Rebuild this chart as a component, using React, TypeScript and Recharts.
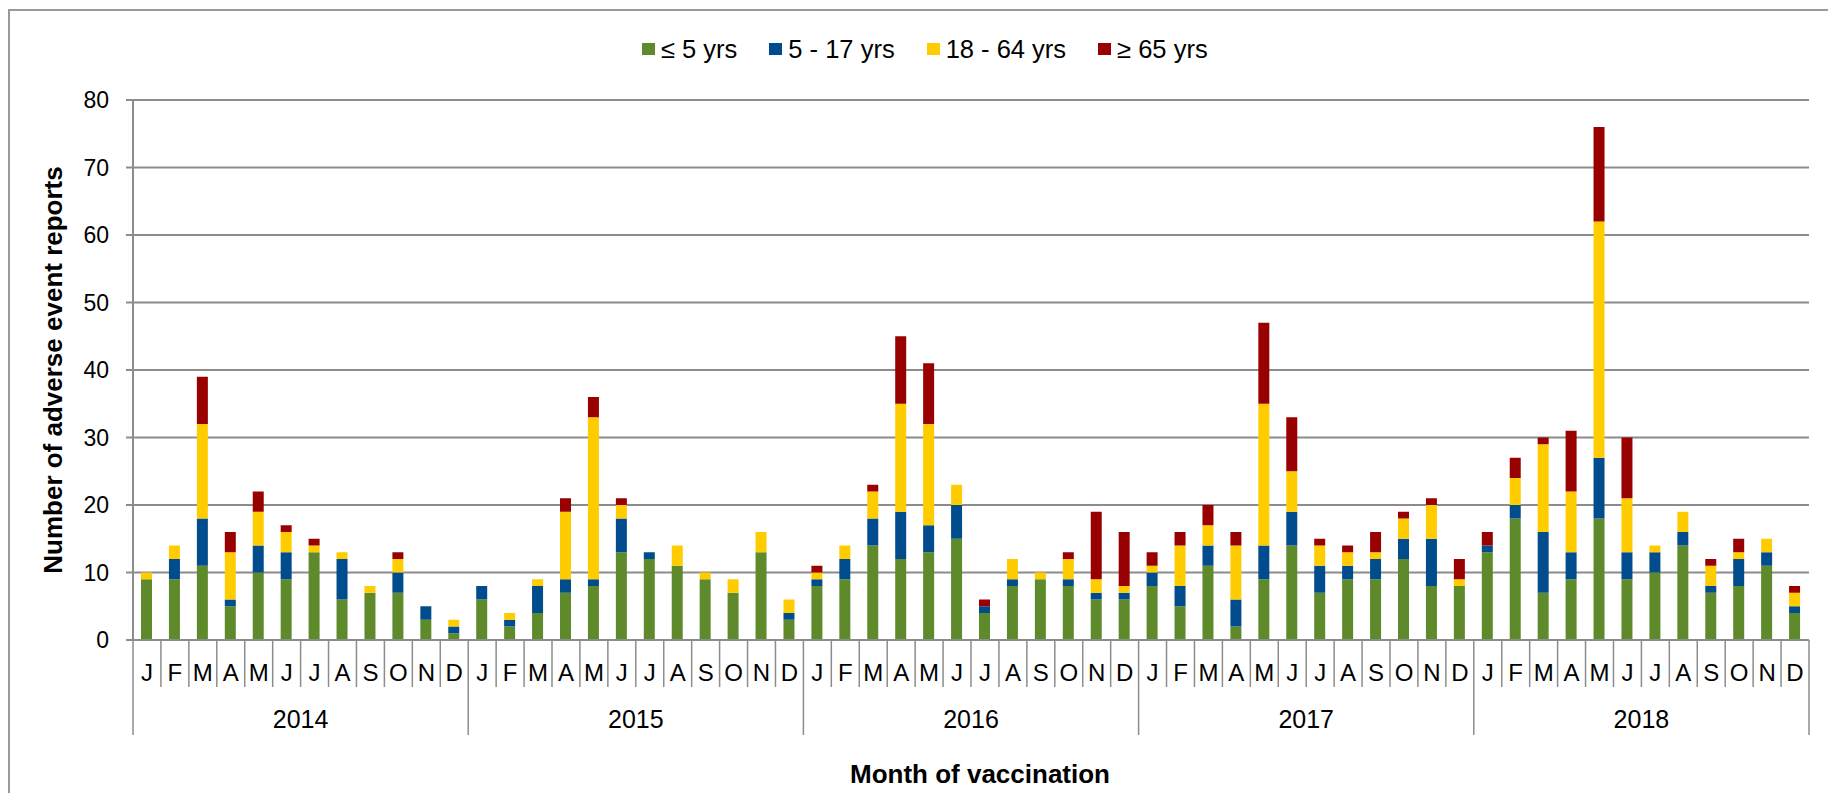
import { BarChart, Bar, XAxis, YAxis, CartesianGrid, Legend, Label } from 'recharts'

const months = ['J', 'F', 'M', 'A', 'M', 'J', 'J', 'A', 'S', 'O', 'N', 'D']
const years = ['2014', '2015', '2016', '2017', '2018']
const yTicks = [0, 10, 20, 30, 40, 50, 60, 70, 80]

// counts per month, Jan 2014 .. Dec 2018
const under5 = [
  9, 9, 11, 5, 10, 9, 13, 6, 7, 7, 3, 1,
  6, 2, 4, 7, 8, 13, 12, 11, 9, 7, 13, 3,
  8, 9, 14, 12, 13, 15, 4, 8, 9, 8, 6, 6,
  8, 5, 11, 2, 9, 14, 7, 9, 9, 12, 8, 8,
  13, 18, 7, 9, 18, 9, 10, 14, 7, 8, 11, 4,
]
const age5to17 = [
  0, 3, 7, 1, 4, 4, 0, 6, 0, 3, 2, 1,
  2, 1, 4, 2, 1, 5, 1, 0, 0, 0, 0, 1,
  1, 3, 4, 7, 4, 5, 1, 1, 0, 1, 1, 1,
  2, 3, 3, 4, 5, 5, 4, 2, 3, 3, 7, 0,
  1, 2, 9, 4, 9, 4, 3, 2, 1, 4, 2, 1,
]
const age18to64 = [
  1, 2, 14, 7, 5, 3, 1, 1, 1, 2, 0, 1,
  0, 1, 1, 10, 24, 2, 0, 3, 1, 2, 3, 2,
  1, 2, 4, 16, 15, 3, 0, 3, 1, 3, 2, 1,
  1, 6, 3, 8, 21, 6, 3, 2, 1, 3, 5, 1,
  0, 4, 13, 9, 35, 8, 1, 3, 3, 1, 2, 2,
]
const over65 = [
  0, 0, 7, 3, 3, 1, 1, 0, 0, 1, 0, 0,
  0, 0, 0, 2, 3, 1, 0, 0, 0, 0, 0, 0,
  1, 0, 1, 10, 9, 0, 1, 0, 0, 1, 10, 8,
  2, 2, 3, 2, 12, 8, 1, 1, 3, 1, 1, 3,
  2, 3, 1, 9, 14, 9, 0, 0, 1, 2, 0, 1,
]

const series = [
  { key: 'u5', name: '≤ 5 yrs', color: '#5e8a2b' },
  { key: 'a517', name: '5 - 17 yrs', color: '#004c8c' },
  { key: 'a1864', name: '18 - 64 yrs', color: '#ffcc00' },
  { key: 'o65', name: '≥ 65 yrs', color: '#990000' },
]

const data = years.flatMap((yr, yi) =>
  months.map((m, mi) => {
    const i = yi * 12 + mi
    return {
      key: `${yr}-${mi + 1}`,
      month: m,
      year: yr,
      u5: under5[i],
      a517: age5to17[i],
      a1864: age18to64[i],
      o65: over65[i],
    }
  })
)

const FONT = '"Liberation Sans", Arial, sans-serif'
const GRID = '#8c8c8c'
const W = 1820
const H = 785
const PLOT_LEFT = 125
const PLOT_RIGHT = 1801
const PLOT_TOP = 92
const PLOT_BOTTOM = 632
const HALF = (PLOT_RIGHT - PLOT_LEFT) / data.length / 2

function MonthTick(props: any) {
  const { x, index } = props
  const row = data[index]
  if (!row) return null
  const y0 = PLOT_BOTTOM
  const startsYear = index % 12 === 0
  const last = index === data.length - 1
  return (
    <g>
      <line x1={x - HALF} x2={x - HALF} y1={y0} y2={y0 + (startsYear ? 95 : 47)} stroke={GRID} strokeWidth={1.5} />
      {last && <line x1={x + HALF} x2={x + HALF} y1={y0} y2={y0 + 95} stroke={GRID} strokeWidth={1.5} />}
      <text x={x} y={y0 + 40.5} textAnchor="middle" fontFamily={FONT} fontSize={24} fill="#000">
        {row.month}
      </text>
      {index % 12 === 5 && (
        <text x={x + HALF} y={y0 + 88} textAnchor="middle" fontFamily={FONT} fontSize={25} fill="#000">
          {row.year}
        </text>
      )}
    </g>
  )
}

function LegendContent() {
  return (
    <div style={{ display: 'flex', alignItems: 'center', fontFamily: FONT, fontSize: 25.5, color: '#000', lineHeight: '28px' }}>
      {series.map((s, i) => (
        <div key={s.key} style={{ display: 'flex', alignItems: 'center', marginLeft: i ? 32 : 0 }}>
          <span style={{ display: 'inline-block', width: 13, height: 12, background: s.color, marginRight: 6 }} />
          <span>{s.name}</span>
        </div>
      ))}
    </div>
  )
}

export default function App() {
  return (
    <div style={{ position: 'relative', width: W + 8, height: H }}>
      <div
        style={{
          position: 'absolute',
          left: 0,
          top: 1,
          width: 1826,
          height: H - 1,
          border: '2px solid #9a9a9a',
          borderBottom: 'none',
          boxSizing: 'border-box',
        }}
      />
      <div style={{ position: 'absolute', left: 0, top: 0 }}>
        <BarChart
          width={W}
          height={H}
          data={data}
          margin={{ top: PLOT_TOP, right: W - PLOT_RIGHT, left: PLOT_LEFT - 60, bottom: 0 }}
          barSize={11}
        >
          <CartesianGrid vertical={false} stroke={GRID} strokeWidth={2} />
          <XAxis
            dataKey="key"
            interval={0}
            height={H - PLOT_BOTTOM}
            tickLine={false}
            tickSize={0}
            axisLine={{ stroke: GRID, strokeWidth: 2 }}
            tick={<MonthTick />}
          >
            <Label
              content={() => (
                <text x={972} y={775} textAnchor="middle" fontFamily={FONT} fontSize={26} fontWeight="bold" fill="#000">
                  Month of vaccination
                </text>
              )}
            />
          </XAxis>
          <YAxis
            width={60}
            domain={[0, 80]}
            ticks={yTicks}
            interval={0}
            tickSize={7}
            tickMargin={17}
            tickLine={{ stroke: GRID, strokeWidth: 2 }}
            axisLine={{ stroke: GRID, strokeWidth: 2 }}
            tick={{ fill: '#000', fontSize: 23, fontFamily: FONT }}
          >
            <Label
              content={() => (
                <text
                  x={0}
                  y={0}
                  transform="translate(54 362) rotate(-90)"
                  textAnchor="middle"
                  fontFamily={FONT}
                  fontSize={26}
                  fontWeight="bold"
                  fill="#000"
                >
                  Number of adverse event reports
                </text>
              )}
            />
          </YAxis>
          <Legend
            verticalAlign="middle"
            layout="horizontal"
            align="center"
            wrapperStyle={{ top: 27, left: 634, width: 'auto' }}
            content={<LegendContent />}
          />
          {series.map((s) => (
            <Bar key={s.key} dataKey={s.key} name={s.name} stackId="a" fill={s.color} isAnimationActive={false} />
          ))}
        </BarChart>
      </div>
    </div>
  )
}
